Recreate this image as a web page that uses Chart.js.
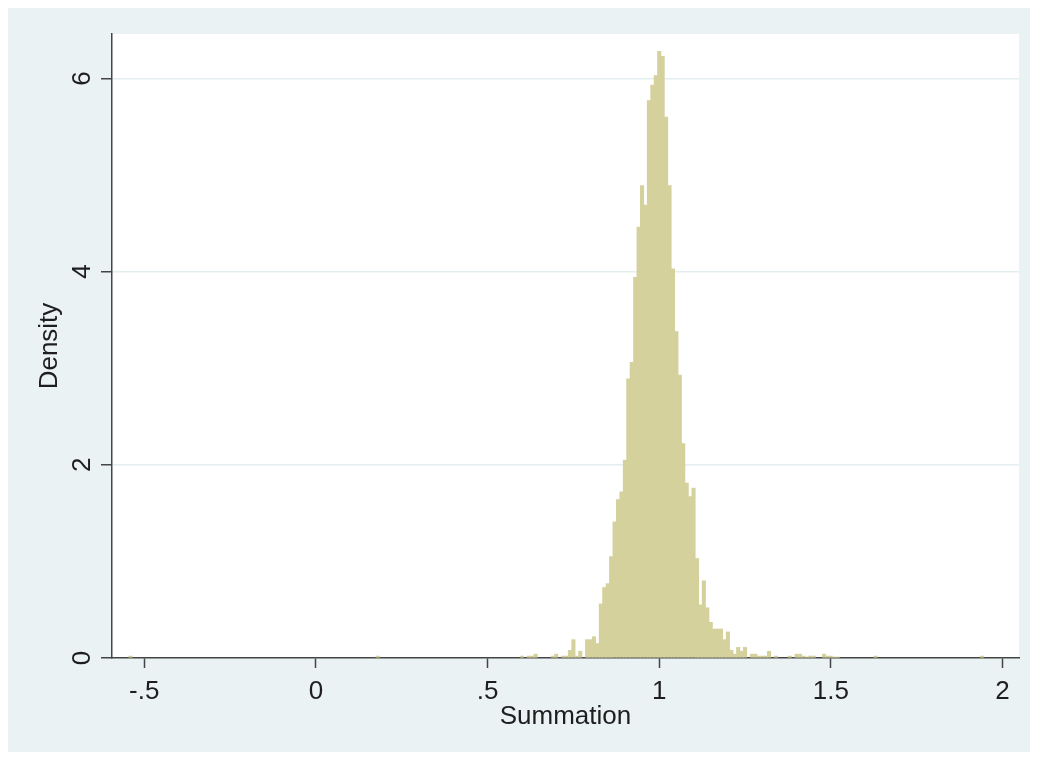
<!DOCTYPE html>
<html>
<head>
<meta charset="utf-8">
<script src="https://cdn.jsdelivr.net/npm/chart.js@4.4.1/dist/chart.umd.min.js"></script>
<style>
  html, body { margin: 0; padding: 0; background: #fff; }
  #wrap { width: 1037px; height: 758px; }
</style>
</head>
<body>
<div id="wrap"><canvas id="histChart" width="1037" height="758"></canvas></div>
<script>
// histogram of Summation, bin width 0.01 (only non-empty bins listed)
const binCenters = [
  -0.54, 0.18, 0.60, 0.62, 0.63, 0.64, 0.69, 0.70, 0.72, 0.73,
  0.74, 0.75, 0.76, 0.77, 0.79, 0.80, 0.81, 0.82, 0.83, 0.84,
  0.85, 0.86, 0.87, 0.88, 0.89, 0.90, 0.91, 0.92, 0.93, 0.94,
  0.95, 0.96, 0.97, 0.98, 0.99, 1.00, 1.01, 1.02, 1.03, 1.04,
  1.05, 1.06, 1.07, 1.08, 1.09, 1.10, 1.11, 1.12, 1.13, 1.14,
  1.15, 1.16, 1.17, 1.18, 1.19, 1.20, 1.21, 1.22, 1.23, 1.24,
  1.25, 1.27, 1.28, 1.29, 1.30, 1.31, 1.32, 1.34, 1.38, 1.40,
  1.41, 1.42, 1.43, 1.44, 1.45, 1.48, 1.49, 1.50, 1.51, 1.52,
  1.63, 1.94
];
const density = [
  0.02, 0.02, 0.02, 0.02, 0.02, 0.04, 0.02, 0.04, 0.02, 0.02,
  0.08, 0.19, 0.02, 0.07, 0.19, 0.19, 0.22, 0.15, 0.56, 0.73,
  0.77, 1.05, 1.41, 1.64, 1.72, 2.05, 2.89, 3.06, 3.94, 4.46,
  4.89, 4.69, 5.77, 5.93, 6.03, 6.28, 6.23, 5.60, 4.89, 4.03,
  3.38, 2.93, 2.22, 1.81, 1.67, 1.76, 1.03, 0.55, 0.80, 0.52,
  0.37, 0.30, 0.30, 0.30, 0.19, 0.27, 0.08, 0.04, 0.11, 0.07,
  0.11, 0.04, 0.04, 0.02, 0.02, 0.02, 0.07, 0.02, 0.02, 0.04,
  0.04, 0.02, 0.01, 0.02, 0.02, 0.04, 0.02, 0.02, 0.01, 0.01,
  0.02, 0.02
];
const xTicks = [-0.5, 0, 0.5, 1, 1.5, 2];
const xTickLabels = ['-.5', '0', '.5', '1', '1.5', '2'];
const yTicks = [0, 2, 4, 6];
const yTickLabels = ['0', '2', '4', '6'];

const FONT = 'Arial, "Liberation Sans", Helvetica, sans-serif';
const TEXT = '#1e1e1e';
const AXIS = '#454545';
const GRID = '#e3eef0';

// stata-like backgrounds + rotated y labels
const stataLook = {
  id: 'stataLook',
  beforeDraw(chart) {
    const { ctx, chartArea } = chart;
    ctx.save();
    ctx.fillStyle = '#ffffff';
    ctx.fillRect(0, 0, chart.width, chart.height);
    ctx.fillStyle = '#eaf2f3';
    ctx.fillRect(8, 8, 1022, 744);
    ctx.fillStyle = '#ffffff';
    ctx.fillRect(chartArea.left, chartArea.top, chartArea.right - chartArea.left, chartArea.bottom - chartArea.top);
    ctx.restore();
  },
  afterDraw(chart) {
    const { ctx } = chart;
    const y = chart.scales.y;
    ctx.save();
    ctx.fillStyle = TEXT;
    ctx.font = '26px ' + FONT;
    ctx.textAlign = 'center';
    ctx.textBaseline = 'alphabetic';
    yTicks.forEach((v, i) => {
      ctx.save();
      ctx.translate(90, y.getPixelForValue(v));
      ctx.rotate(-Math.PI / 2);
      ctx.fillText(yTickLabels[i], 0, 0);
      ctx.restore();
    });
    ctx.restore();
  }
};

new Chart(document.getElementById('histChart'), {
  type: 'bar',
  data: {
    datasets: [{
      label: 'Density',
      data: binCenters.map((c, i) => ({ x: c, y: density[i] })),
      backgroundColor: 'rgb(213, 209, 156)',
      borderWidth: 0,
      barPercentage: 1,
      categoryPercentage: 1,
    }],
  },
  options: {
    responsive: false,
    animation: false,
    layout: { padding: { top: 34, right: 18, left: 0, bottom: 0 } },
    plugins: { legend: { display: false }, tooltip: { enabled: false } },
    scales: {
      x: {
        type: 'linear',
        offset: false,
        min: -0.594,
        max: 2.048,
        afterBuildTicks: (axis) => { axis.ticks = xTicks.map(v => ({ value: v })); },
        afterFit: (axis) => { axis.height = 100; },
        ticks: {
          autoSkip: false,
          maxRotation: 0,
          padding: 8,
          color: TEXT,
          font: { family: FONT, size: 26 },
          callback: (v, i) => xTickLabels[i],
        },
        grid: {
          offset: false,
          drawOnChartArea: false,
          drawTicks: true,
          tickLength: 10,
          tickColor: AXIS,
          tickWidth: 1.5,
        },
        border: { color: AXIS, width: 1.5 },
        title: {
          display: true,
          text: 'Summation',
          color: TEXT,
          font: { family: FONT, size: 26 },
          padding: { top: 0, bottom: 26 },
        },
      },
      y: {
        min: 0,
        max: 6.46,
        afterBuildTicks: (axis) => { axis.ticks = yTicks.map(v => ({ value: v })); },
        afterFit: (axis) => { axis.width = 112; },
        ticks: { display: false },
        grid: {
          color: (c) => (c.tick && c.tick.value === 0 ? 'rgba(0,0,0,0)' : GRID),
          lineWidth: 1.5,
          drawTicks: true,
          tickLength: 11,
          tickColor: AXIS,
          tickWidth: 1.5,
        },
        border: { color: AXIS, width: 1.5 },
        title: {
          display: true,
          text: 'Density',
          color: TEXT,
          font: { family: FONT, size: 26 },
          padding: { top: 34, bottom: 0 },
        },
      },
    },
  },
  plugins: [stataLook],
});
</script>
</body>
</html>
